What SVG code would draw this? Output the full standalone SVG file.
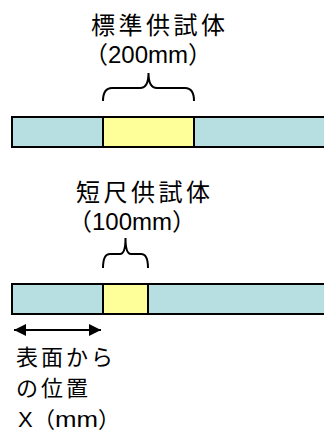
<svg xmlns="http://www.w3.org/2000/svg" width="324" height="432" viewBox="0 0 324 432">
<style>
.t{font-family:"Liberation Sans","Noto Sans CJK JP",sans-serif;font-size:24px;fill:#000}
.s{font-size:22px}
.bar{fill:#B7DFE1;stroke:#000;stroke-width:2}
.spec{fill:#FFFF99;stroke:#000;stroke-width:2}
.br{fill:none;stroke:#000;stroke-width:2}
</style>
<defs>
<marker id="ah" viewBox="0 0 10 10" refX="10" refY="5" markerWidth="12" markerHeight="12" markerUnits="userSpaceOnUse" orient="auto-start-reverse"><path d="M0,0 L10,5 L0,10 Z" fill="#000"/></marker>
</defs>
<g id="standard">
<rect class="bar" x="12" y="117" width="320" height="30"/>
<rect class="spec" x="103" y="117" width="91" height="30"/>
<text class="t" x="91" y="34" letter-spacing="3.5">標準供試体</text>
<text class="t" x="84" y="63">（200mm）</text>
</g>
<g id="short">
<rect class="bar" x="12" y="284" width="320" height="30"/>
<rect class="spec" x="103" y="284" width="45" height="30"/>
<text class="t" x="76" y="201" letter-spacing="3.5">短尺供試体</text>
<text class="t" x="68" y="230">（100mm）</text>
</g>
<g id="position">
<text class="t s" x="16" y="365" letter-spacing="3">表面から</text>
<text class="t s" x="16" y="396" letter-spacing="3">の位置</text>
<text class="t s" y="427"><tspan x="18">X</tspan><tspan x="33">（</tspan><tspan x="55" textLength="43" lengthAdjust="spacingAndGlyphs">mm</tspan><tspan x="98">）</tspan></text>
</g>
<g id="connectors">
<path class="br" d="M103,101 Q103,88 112,88 H140 Q148.5,88 148.5,73 Q148.5,88 157,88 H185 Q194,88 194,101"/>
<path class="br" d="M103,268 Q103,254 110,254 H120 Q125.5,254 125.5,238 Q125.5,254 131,254 H141 Q148,254 148,268"/>
<line x1="14" y1="330" x2="101" y2="330" stroke="#000" stroke-width="2" marker-start="url(#ah)" marker-end="url(#ah)"/>
</g>
</svg>
